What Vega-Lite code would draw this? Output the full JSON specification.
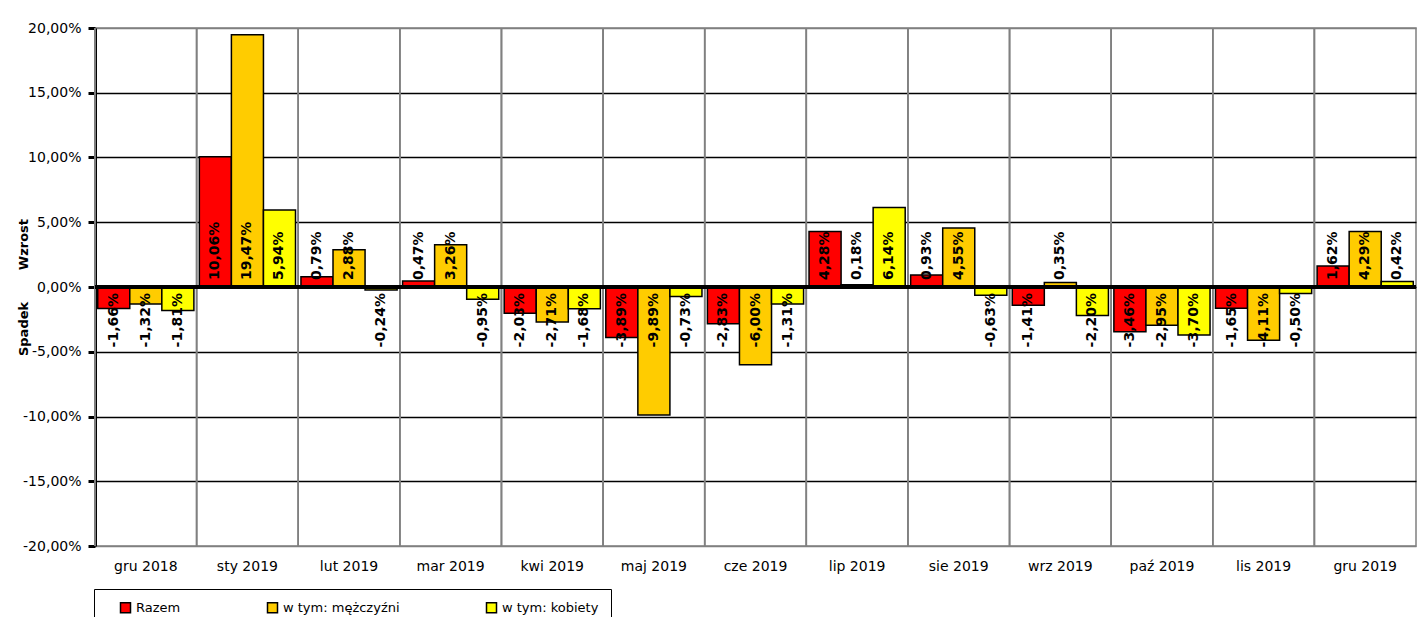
{
  "$schema": "https://vega.github.io/schema/vega-lite/v6.json",
  "autosize": {"type": "none"},
  "width": 1321,
  "height": 518,
  "padding": {"left": 95, "top": 28, "right": 4, "bottom": 71},
  "background": "white",
  "config": {
    "locale": {"number": {"decimal": ",", "thousands": " ", "grouping": [3], "currency": ["", " zł"], "minus": "-"}},
    "font": "DejaVu Sans",
    "view": {"stroke": "#808080", "strokeWidth": 1.5}
  },
  "data": {"values": [
    {"month": "gru 2018", "series": "Razem", "value": -0.0166},
    {"month": "gru 2018", "series": "w tym: mężczyźni", "value": -0.0132},
    {"month": "gru 2018", "series": "w tym: kobiety", "value": -0.0181},
    {"month": "sty 2019", "series": "Razem", "value": 0.1006},
    {"month": "sty 2019", "series": "w tym: mężczyźni", "value": 0.1947},
    {"month": "sty 2019", "series": "w tym: kobiety", "value": 0.0594},
    {"month": "lut 2019", "series": "Razem", "value": 0.0079},
    {"month": "lut 2019", "series": "w tym: mężczyźni", "value": 0.0288},
    {"month": "lut 2019", "series": "w tym: kobiety", "value": -0.0024},
    {"month": "mar 2019", "series": "Razem", "value": 0.0047},
    {"month": "mar 2019", "series": "w tym: mężczyźni", "value": 0.0326},
    {"month": "mar 2019", "series": "w tym: kobiety", "value": -0.0095},
    {"month": "kwi 2019", "series": "Razem", "value": -0.0203},
    {"month": "kwi 2019", "series": "w tym: mężczyźni", "value": -0.0271},
    {"month": "kwi 2019", "series": "w tym: kobiety", "value": -0.0168},
    {"month": "maj 2019", "series": "Razem", "value": -0.0389},
    {"month": "maj 2019", "series": "w tym: mężczyźni", "value": -0.0989},
    {"month": "maj 2019", "series": "w tym: kobiety", "value": -0.0073},
    {"month": "cze 2019", "series": "Razem", "value": -0.0283},
    {"month": "cze 2019", "series": "w tym: mężczyźni", "value": -0.06},
    {"month": "cze 2019", "series": "w tym: kobiety", "value": -0.0131},
    {"month": "lip 2019", "series": "Razem", "value": 0.0428},
    {"month": "lip 2019", "series": "w tym: mężczyźni", "value": 0.0018},
    {"month": "lip 2019", "series": "w tym: kobiety", "value": 0.0614},
    {"month": "sie 2019", "series": "Razem", "value": 0.0093},
    {"month": "sie 2019", "series": "w tym: mężczyźni", "value": 0.0455},
    {"month": "sie 2019", "series": "w tym: kobiety", "value": -0.0063},
    {"month": "wrz 2019", "series": "Razem", "value": -0.0141},
    {"month": "wrz 2019", "series": "w tym: mężczyźni", "value": 0.0035},
    {"month": "wrz 2019", "series": "w tym: kobiety", "value": -0.022},
    {"month": "paź 2019", "series": "Razem", "value": -0.0346},
    {"month": "paź 2019", "series": "w tym: mężczyźni", "value": -0.0295},
    {"month": "paź 2019", "series": "w tym: kobiety", "value": -0.037},
    {"month": "lis 2019", "series": "Razem", "value": -0.0165},
    {"month": "lis 2019", "series": "w tym: mężczyźni", "value": -0.0411},
    {"month": "lis 2019", "series": "w tym: kobiety", "value": -0.005},
    {"month": "gru 2019", "series": "Razem", "value": 0.0162},
    {"month": "gru 2019", "series": "w tym: mężczyźni", "value": 0.0429},
    {"month": "gru 2019", "series": "w tym: kobiety", "value": 0.0042}
  ]},
  "layer": [
    {
      "mark": {"type": "rule", "color": "#808080", "strokeWidth": 1.5},
      "encoding": {
        "x": {"field": "month", "type": "nominal", "sort": null, "bandPosition": 0, "title": null,
          "scale": {"paddingInner": 0, "paddingOuter": 0},
          "axis": {"labelAngle": 0, "labelFontSize": 14, "labelColor": "black", "labelPadding": 13, "ticks": false, "domain": false, "grid": false, "labelFont": "DejaVu Sans"}}
      }
    },
    {
      "mark": {"type": "bar", "stroke": "black", "strokeWidth": 1.5},
      "encoding": {
        "x": {"field": "month", "type": "nominal", "sort": null, "title": null},
        "xOffset": {"field": "series", "type": "nominal", "sort": ["Razem", "w tym: mężczyźni", "w tym: kobiety"], "scale": {"paddingInner": 0, "paddingOuter": 0.085}},
        "y": {"field": "value", "type": "quantitative", "stack": null, "title": "Spadek\u00a0\u00a0\u00a0\u00a0\u00a0\u00a0\u00a0Wzrost",
          "scale": {"domain": [-0.2, 0.2], "nice": false, "zero": false},
          "axis": {"values": [-0.2, -0.15, -0.1, -0.05, 0, 0.05, 0.1, 0.15, 0.2], "format": ".2%", "labelFontSize": 14, "labelColor": "black", "labelPadding": 7, "tickSize": 7, "tickWidth": 3, "tickColor": "black", "domainColor": "black", "domainWidth": 3, "grid": true, "gridColor": {"condition": {"test": "abs(datum.value) > 0.19", "value": "#808080"}, "value": "black"}, "gridWidth": 1.5, "titleFontSize": 13, "titleFontWeight": "bold", "titleColor": "black", "titleX": -72, "titleY": 259, "titleAngle": -90, "titleAlign": "center", "titleBaseline": "middle"}},
        "color": {"field": "series", "type": "nominal", "sort": ["Razem", "w tym: mężczyźni", "w tym: kobiety"],
          "scale": {"domain": ["Razem", "w tym: mężczyźni", "w tym: kobiety"], "range": ["#FF0000", "#FFCC00", "#FFFF00"]},
          "legend": {"orient": "none", "legendX": -1, "legendY": 561, "direction": "horizontal", "title": "\u00a0", "titleOrient": "left", "titlePadding": 13, "titleFontSize": 13, "padding": 12, "strokeColor": "black", "fillColor": "white", "symbolType": "square", "symbolSize": 100, "symbolStrokeColor": "black", "symbolStrokeWidth": 1.5, "symbolOpacity": 1, "labelFontSize": 13, "labelColor": "black", "labelOffset": 4, "columnPadding": 83, "labelLimit": 300}}
      }
    },
    {
      "mark": {"type": "rule", "color": "black", "strokeWidth": 3},
      "encoding": {"y": {"datum": 0, "type": "quantitative", "title": "Spadek\u00a0\u00a0\u00a0\u00a0\u00a0\u00a0\u00a0Wzrost"}}
    },
    {
      "transform": [{"filter": "datum.value >= 0"}],
      "mark": {"type": "text", "angle": 270, "align": "left", "baseline": "middle", "dx": 7, "fontSize": 14, "fontWeight": "bold", "color": "black"},
      "encoding": {
        "x": {"field": "month", "type": "nominal", "sort": null, "title": null},
        "xOffset": {"field": "series", "type": "nominal", "sort": ["Razem", "w tym: mężczyźni", "w tym: kobiety"]},
        "y": {"datum": 0, "type": "quantitative", "title": "Spadek\u00a0\u00a0\u00a0\u00a0\u00a0\u00a0\u00a0Wzrost"},
        "text": {"field": "value", "type": "quantitative", "format": ".2%"}
      }
    },
    {
      "transform": [{"filter": "datum.value < 0"}],
      "mark": {"type": "text", "angle": 270, "align": "right", "baseline": "middle", "dx": -6, "fontSize": 14, "fontWeight": "bold", "color": "black"},
      "encoding": {
        "x": {"field": "month", "type": "nominal", "sort": null, "title": null},
        "xOffset": {"field": "series", "type": "nominal", "sort": ["Razem", "w tym: mężczyźni", "w tym: kobiety"]},
        "y": {"datum": 0, "type": "quantitative", "title": "Spadek\u00a0\u00a0\u00a0\u00a0\u00a0\u00a0\u00a0Wzrost"},
        "text": {"field": "value", "type": "quantitative", "format": ".2%"}
      }
    }
  ]
}
